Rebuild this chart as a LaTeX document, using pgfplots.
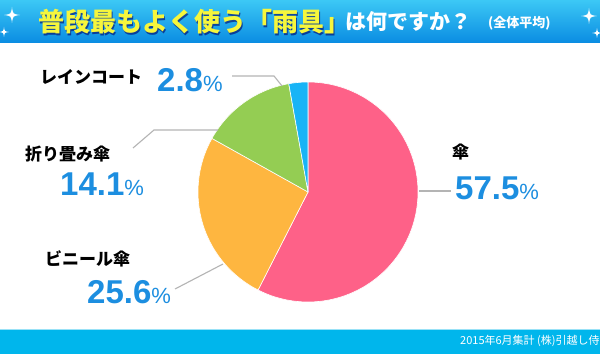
\documentclass[border=0pt]{standalone}
\usepackage{fontspec}
\setmainfont{Noto Sans CJK JP}
\newfontfamily\numfont{Liberation Sans}
\usepackage{pgfplots}
\pgfplotsset{compat=1.18}
\usepackage{pgfplotstable}
\definecolor{cPink}{RGB}{254,97,136}
\definecolor{cOrange}{RGB}{254,182,64}
\definecolor{cGreen}{RGB}{148,205,83}
\definecolor{cBlue}{RGB}{24,180,246}
\definecolor{numBlue}{RGB}{28,142,224}
\definecolor{bandTop}{RGB}{60,200,245}
\definecolor{bandBot}{RGB}{10,140,226}
\definecolor{footBlue}{RGB}{0,182,236}
\definecolor{leader}{RGB}{180,180,180}
\definecolor{titleYellow}{RGB}{246,246,60}
% shares (%)
\def\vUmbrella{57.5}
\def\vVinyl{25.6}
\def\vFolding{14.1}
\def\vRain{2.8}
\pgfmathsetmacro\aA{90}
\pgfmathsetmacro\aB{\aA-3.6*\vUmbrella}
\pgfmathsetmacro\aC{\aB-3.6*\vVinyl}
\pgfmathsetmacro\aD{\aC-3.6*\vFolding}
\pgfmathsetmacro\aE{\aD-3.6*\vRain}
\newcommand{\sparkle}[3]{\fill[white] (#1pt,#2pt+#3pt) .. controls (#1pt+0.12*#3pt,#2pt+0.12*#3pt) .. (#1pt+#3pt,#2pt) .. controls (#1pt+0.12*#3pt,#2pt-0.12*#3pt) .. (#1pt,#2pt-#3pt) .. controls (#1pt-0.12*#3pt,#2pt-0.12*#3pt) .. (#1pt-#3pt,#2pt) .. controls (#1pt-0.12*#3pt,#2pt+0.12*#3pt) .. cycle;}
\newcommand{\pct}[1]{{\numfont\bfseries\fontsize{33}{33}\selectfont #1}{\numfont\fontsize{22}{22}\selectfont\%}}
\begin{document}
\begin{tikzpicture}[x=1pt,y=1pt]
\path[use as bounding box, clip] (0,0) rectangle (600,354);
\fill[white] (0,0) rectangle (600,354);
% title band
\shade[top color=bandTop, bottom color=bandBot] (0,311) rectangle (600,354);
\fill[footBlue] (0,0) rectangle (600,25);
\fill[white!60!footBlue] (0,24.2) rectangle (600,25.5);
\sparkle{12}{339}{8}
\sparkle{4}{322}{5}
\sparkle{589}{338}{8}
\sparkle{597}{321}{5}
% title
\node[anchor=west, inner sep=0, text=black!60!blue, opacity=0.6] at (39.2,330.8) {\fontsize{26}{26}\selectfont\bfseries 普段最もよく使う「雨具」};
\node[anchor=west, inner sep=0, text=titleYellow] at (38,332) {\fontsize{26}{26}\selectfont\bfseries 普段最もよく使う「雨具」};
\node[anchor=west, inner sep=0, text=white] at (345,332) {\fontsize{21}{21}\selectfont\bfseries は何ですか？};
\node[anchor=west, inner sep=0, text=white] at (488,331) {\fontsize{13}{13}\selectfont\bfseries (全体平均)};
\node[anchor=west, inner sep=0, text=white] at (460,13) {\fontsize{11}{11}\selectfont 2015年6月集計 (株)引越し侍調べ};
\begin{axis}[at={(0,0)}, anchor=south west, scale only axis, width=600pt, height=354pt,
  xmin=0, xmax=600, ymin=0, ymax=354, hide axis, clip=false]
\addplot[fill=cPink, draw=white, line width=0.6pt, domain=\aB:\aA, samples=120, variable=\t]
  ({308+110*cos(t)},{162+110*sin(t)}) -- (axis cs:308,162) -- cycle;
\addplot[fill=cOrange, draw=white, line width=0.6pt, domain=\aC:\aB, samples=80, variable=\t]
  ({308+110*cos(t)},{162+110*sin(t)}) -- (axis cs:308,162) -- cycle;
\addplot[fill=cGreen, draw=white, line width=0.6pt, domain=\aD:\aC, samples=50, variable=\t]
  ({308+110*cos(t)},{162+110*sin(t)}) -- (axis cs:308,162) -- cycle;
\addplot[fill=cBlue, draw=white, line width=0.6pt, domain=\aE:\aD, samples=20, variable=\t]
  ({308+110*cos(t)},{162+110*sin(t)}) -- (axis cs:308,162) -- cycle;
% leader lines
\addplot[leader, line width=1.1pt] coordinates {(232,278) (274,278) (282,268)};
\addplot[leader, line width=1.1pt] coordinates {(133,206) (154,224) (218,224)};
\addplot[leader, line width=1.1pt] coordinates {(175,65) (223,90)};
\addplot[leader, line width=1.1pt] coordinates {(419,163) (451,163)};
\end{axis}
% labels
\node[anchor=west, inner sep=0] at (40,277) {\fontsize{17}{17}\selectfont\bfseries レインコート};
\node[anchor=base west, inner sep=0, text=numBlue] at (157,262) {\pct{2.8}};
\node[anchor=west, inner sep=0] at (25,200) {\fontsize{17}{17}\selectfont\bfseries 折り畳み傘};
\node[anchor=base west, inner sep=0, text=numBlue] at (60,159) {\pct{14.1}};
\node[anchor=west, inner sep=0] at (45,95) {\fontsize{17}{17}\selectfont\bfseries ビニール傘};
\node[anchor=base west, inner sep=0, text=numBlue] at (87,51) {\pct{25.6}};
\node[anchor=west, inner sep=0] at (452,202) {\fontsize{17}{17}\selectfont\bfseries 傘};
\node[anchor=base west, inner sep=0, text=numBlue] at (455,154) {\pct{57.5}};
\end{tikzpicture}
\end{document}
